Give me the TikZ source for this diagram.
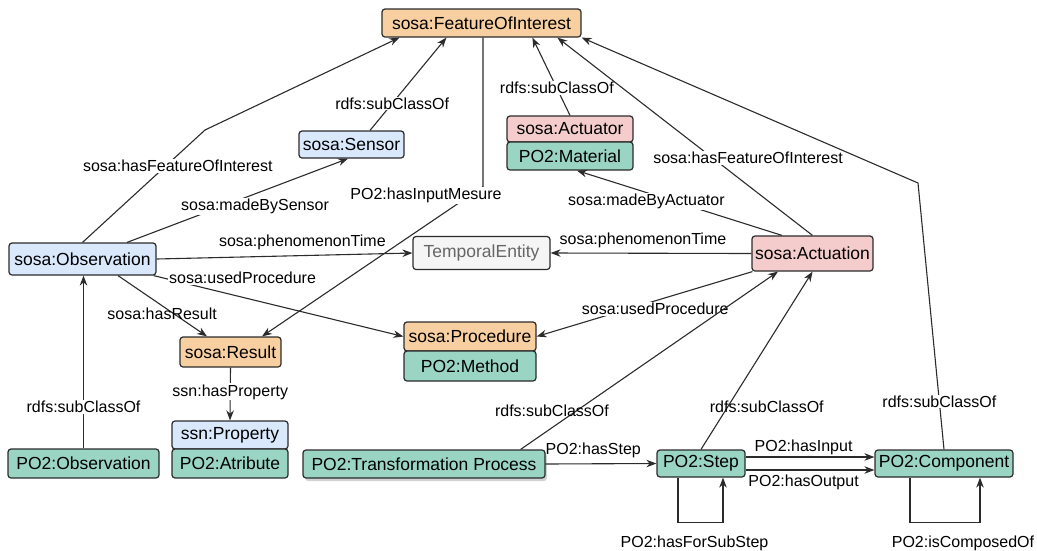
\documentclass[tikz,border=0pt]{standalone}
\usepackage{fontspec}
\setmainfont{Liberation Sans}
\usetikzlibrary{arrows.meta,shadows}
\definecolor{orng}{HTML}{F8CFA0}
\definecolor{blu}{HTML}{DAE8FC}
\definecolor{pnk}{HTML}{F4CCCC}
\definecolor{grn}{HTML}{9AD4C3}
\definecolor{gry}{HTML}{F5F5F5}
\definecolor{txtgry}{HTML}{666666}
\definecolor{ink}{HTML}{2B2B2B}
\begin{document}
\begin{tikzpicture}[x=1pt,y=-1pt,
    box/.style={draw=ink,line width=1.2pt,rounded corners=3pt,inner sep=0pt,
        font=\fontsize{17.5}{20}\selectfont},
    lbl/.style={font=\fontsize{16}{18}\selectfont,fill=white,inner sep=1pt},
    lbln/.style={font=\fontsize{16}{18}\selectfont,inner sep=1pt},
    arr/.style={draw=ink,line width=1.1pt,-{Stealth[length=10pt,width=7.5pt]}}]
\useasboundingbox (0,0) rectangle (1037,550);
\node[box,fill=orng,minimum width=199pt,minimum height=28pt] (foi) at (481.5,23) {sosa:FeatureOfInterest};
\node[box,fill=blu,minimum width=105pt,minimum height=27pt] (sensor) at (351.5,144.5) {sosa:Sensor};
\node[box,fill=pnk,minimum width=126pt,minimum height=26pt] (actr) at (570,129) {sosa:Actuator};
\node[box,fill=grn,minimum width=126pt,minimum height=28pt] (mat) at (570,156) {PO2:Material};
\node[box,fill=blu,minimum width=147pt,minimum height=32pt] (obs) at (82.5,259) {sosa:Observation};
\node[box,fill=gry,text=txtgry,minimum width=137pt,minimum height=33pt] (temp) at (481.5,253) {TemporalEntity};
\node[box,fill=pnk,minimum width=121pt,minimum height=35pt] (acn) at (812.5,253.5) {sosa:Actuation};
\node[box,fill=orng,minimum width=101pt,minimum height=30pt] (res) at (230.5,352) {sosa:Result};
\node[box,fill=orng,minimum width=132pt,minimum height=29pt] (proc) at (470,336.5) {sosa:Procedure};
\node[box,fill=grn,minimum width=132pt,minimum height=30pt] (meth) at (470,366) {PO2:Method};
\node[box,fill=blu,minimum width=116pt,minimum height=28pt] (prop) at (230,435) {ssn:Property};
\node[box,fill=grn,minimum width=116pt,minimum height=29pt] (attr) at (230,463.5) {PO2:Atribute};
\node[box,fill=grn,minimum width=151pt,minimum height=29pt] (pobs) at (83.5,463.5) {PO2:Observation};
\node[box,fill=grn,minimum width=242pt,minimum height=28pt,
    drop shadow={opacity=0.35,shadow xshift=2pt,shadow yshift=-3pt}] (tp) at (424,464) {PO2:Transformation Process};
\node[box,fill=grn,minimum width=88pt,minimum height=27pt] (step) at (701,463.5) {PO2:Step};
\node[box,fill=grn,minimum width=138pt,minimum height=27pt] (comp) at (944,463.5) {PO2:Component};
\coordinate (bfoi) at (205,130);
\coordinate (bcomp) at (918,183);
\draw[arr] (obs.north) -- (bfoi) node[lbl,pos=0.68,xshift=12pt]{sosa:hasFeatureOfInterest} -- ([xshift=18pt]foi.south west);
\draw[arr] ([xshift=44.5pt]obs.north) -- ([xshift=-3.5pt]sensor.south) node[lbl,pos=0.43,xshift=33pt]{sosa:madeBySensor};
\draw[arr] ([xshift=18.5pt]sensor.north) -- ([xshift=65pt]foi.south west) node[lbl,pos=0.29]{rdfs:subClassOf};
\draw[arr] ([xshift=1.5pt]foi.south) -- ++(0,149) node[lbl,xshift=-57pt,yshift=-9pt]{PO2:hasInputMesure} -- ([xshift=31.5pt]res.north);
\draw[arr] (actr.north) -- ([xshift=151pt]foi.south west) node[lbl,pos=0.35]{rdfs:subClassOf};
\draw[arr] (acn.north) -- ([xshift=176pt]foi.south west) node[lbl,pos=0.39,xshift=35pt]{sosa:hasFeatureOfInterest};
\draw[arr] (comp.north) -- (bcomp) node[lbl,pos=0.18]{rdfs:subClassOf} -- (foi.south east);
\draw[arr] (obs.east) -- (temp.west) node[lbln,pos=0.57,above=4pt]{sosa:phenomenonTime};
\draw[arr] (acn.west) -- (temp.east) node[lbln,pos=0.54,above=4pt]{sosa:phenomenonTime};
\draw[arr] ([xshift=-30.5pt]acn.north) -- ([xshift=7pt]mat.south) node[lbl,pos=0.52,xshift=-29pt]{sosa:madeByActuator};
\draw[arr] ([xshift=1pt]acn.south west) -- (proc.east) node[lbl,pos=0.58,xshift=28pt]{sosa:usedProcedure};
\draw[arr] ([xshift=35.5pt]obs.south) -- ([xshift=-23.5pt]res.north) node[lbln,pos=0.62,xshift=-11pt]{sosa:hasResult};
\draw[arr] ([xshift=-3pt]obs.south east) -- (proc.west) node[lbl,pos=0.116,xshift=60pt,yshift=5pt]{sosa:usedProcedure};
\draw[arr] (res.south) -- (prop.north) node[lbl,pos=0.46]{ssn:hasProperty};
\draw[arr] (pobs.north) -- (pobs.north |- obs.south) node[lbl,pos=0.24]{rdfs:subClassOf};
\draw[arr] ([xshift=-25pt]tp.north east) -- ([xshift=-34.5pt]acn.south) node[lbln,pos=0.215,xshift=-24pt]{rdfs:subClassOf};
\draw[arr] (step.north) -- (acn.south) node[lbln,pos=0.24,xshift=39pt]{rdfs:subClassOf};
\draw[arr] (tp.east) -- (step.west) node[lbln,pos=0.43,above=4pt]{PO2:hasStep};
\draw[arr] ([yshift=6.5pt]step.east) -- ([yshift=6.5pt]comp.west) node[lbln,pos=0.45,above=1pt]{PO2:hasInput};
\draw[arr] ([yshift=-6.5pt]step.east) -- ([yshift=-6.5pt]comp.west) node[lbln,pos=0.45,below=3pt]{PO2:hasOutput};
\draw[arr] ([xshift=-23pt]step.south) -- ++(0,45) -| ([xshift=22pt]step.south) node[lbln,pos=0.25,below=12pt,xshift=-6pt]{PO2:hasForSubStep};
\draw[arr] ([xshift=-34pt]comp.south) -- ++(0,45) -| ([xshift=36pt]comp.south) node[lbln,pos=0.25,below=12pt,xshift=18pt]{PO2:isComposedOf};
\end{tikzpicture}
\end{document}
